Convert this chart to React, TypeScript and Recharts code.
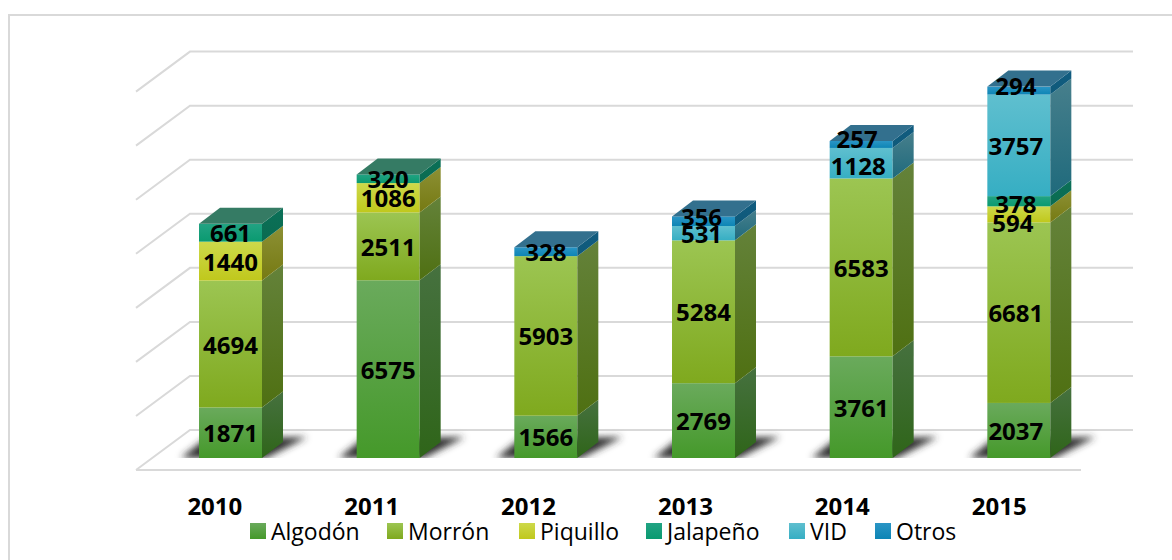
import React from "react";
import { BarChart, Bar, XAxis, YAxis, CartesianGrid, LabelList, Legend } from "recharts";

const years = ["2010", "2011", "2012", "2013", "2014", "2015"];
const algodon = [1871, 6575, 1566, 2769, 3761, 2037];
const morron = [4694, 2511, 5903, 5284, 6583, 6681];
const piquillo = [1440, 1086, 0, 0, 0, 594];
const jalapeno = [661, 320, 0, 0, 0, 378];
const vid = [0, 0, 0, 531, 1128, 3757];
const otros = [0, 0, 328, 356, 257, 294];
const gridTicks = [0, 2000, 4000, 6000, 8000, 10000, 12000, 14000];

const seriesNames = ["Algodón", "Morrón", "Piquillo", "Jalapeño", "VID", "Otros"];
const seriesValues = [algodon, morron, piquillo, jalapeno, vid, otros];
const data = years.map((year, i) => {
  const row: Record<string, any> = { year };
  seriesNames.forEach((n, s) => (row[n] = seriesValues[s][i]));
  return row;
});

const FONT = "'Open Sans', sans-serif";
const DX = 21;
const DY = 16;

const looks: Record<string, any> = {
  "Algodón": { id: "a", f: ["#6aaa5c", "#45992a"], s: ["#46713f", "#2f6519"], t: "#3d7040" },
  "Morrón": { id: "m", f: ["#9cc552", "#7fa91e"], s: ["#64823a", "#4f7012"], t: "#64823a" },
  "Piquillo": { id: "p", f: ["#cdd94b", "#c0c81c"], s: ["#8c9035", "#767a12"], t: "#8c9035" },
  "Jalapeño": { id: "j", f: ["#22a383", "#0a9a70"], s: ["#0b7058", "#0a6b50"], t: "#357b64" },
  "VID": { id: "v", f: ["#5fbfcf", "#36aec3"], s: ["#477f8c", "#1f6a7c"], t: "#3d7f8e" },
  "Otros": { id: "o", f: ["#2a95c5", "#0d85b5"], s: ["#115c80", "#0f5a7a"], t: "#33708e" },
};

const labelNudge: Record<string, [number, number]> = {
  "2013-Otros": [-2, -5],
  "2013-VID": [-2, 0],
  "2014-Otros": [-4, -6],
  "2014-VID": [-3, 2],
  "2015-Otros": [-3, -5],
  "2015-VID": [-3, 0],
  "2015-Jalapeño": [-3, 2],
  "2015-Piquillo": [-6, 8],
  "2015-Morrón": [-3, 0],
  "2015-Algodón": [-3, 0],
};

const legendSlots = [137, 132, 127, 143, 86, 90];

function isTop(index: number, name: string) {
  const at = seriesNames.indexOf(name);
  for (let s = at + 1; s < seriesNames.length; s++) {
    if (seriesValues[s][index] > 0) return false;
  }
  return true;
}

function makeShape(name: string) {
  return (p: any) => {
    const { x, y, width, height, index } = p;
    const v = seriesValues[seriesNames.indexOf(name)][index];
    if (!v) return <g />;
    const look = looks[name];
    const b = y + height;
    const r = x + width;
    return (
      <g>
        {name === "Algodón" && (
          <polygon
            points={`${x - 18},${b} ${x + 6},${b - 19} ${r + 45},${b - 21} ${r + 4},${b}`}
            fill="#2f2f2f"
            filter="url(#shadowBlur)"
          />
        )}
        <rect x={x} y={y} width={width} height={height} fill={`url(#front-${look.id})`} />
        <polygon
          points={`${r},${y} ${r + DX},${y - DY} ${r + DX},${b - DY} ${r},${b}`}
          fill={`url(#side-${look.id})`}
        />
        {isTop(index, name) && (
          <polygon
            points={`${x},${y} ${x + DX},${y - DY} ${r + DX},${y - DY} ${r},${y}`}
            fill={look.t}
          />
        )}
      </g>
    );
  };
}

function makeLabel(name: string) {
  return (p: any) => {
    const { x, y, width, height, value, index } = p;
    if (!value) return <g />;
    const n = labelNudge[`${years[index]}-${name}`] || [0, 0];
    return (
      <text
        x={x + width / 2 + n[0]}
        y={y + height / 2 + n[1]}
        textAnchor="middle"
        dominantBaseline="central"
        fontFamily={FONT}
        fontWeight={700}
        fontSize={24}
        fill="#000"
      >
        {value}
      </text>
    );
  };
}

const gridLine = (p: any) => {
  const { x1, x2, y1 } = p;
  const isFloor = Math.abs(y1 - 458) < 1;
  return (
    <g key={`g-${y1}`} stroke="#d9d9d9" strokeWidth={2} fill="none">
      <polyline points={`${x1 - 16},${y1 + 12} ${x1 + 38},${y1 - 28} ${x2 + 35},${y1 - 28}`} />
      {isFloor && <line x1={x1 - 16} y1={y1 + 12} x2={x2 - 17} y2={y1 + 12} />}
    </g>
  );
};

const YearTick = (p: any) => {
  const { x, y, payload, index } = p;
  return (
    <text
      x={x - 16 - index * 0.8}
      y={y + 41}
      textAnchor="middle"
      dominantBaseline="central"
      fontFamily={FONT}
      fontWeight={700}
      fontSize={24}
      fill="#000"
    >
      {payload.value}
    </text>
  );
};

const LegendContent = (p: any) => {
  const items = [...(p.payload || [])].sort(
    (a: any, b: any) => seriesNames.indexOf(a.value) - seriesNames.indexOf(b.value)
  );
  return (
    <div style={{ display: "flex", fontFamily: FONT, fontSize: 23, color: "#000", lineHeight: "24px" }}>
      {items.map((it: any, i: number) => {
        const look = looks[it.value];
        return (
          <div key={it.value} style={{ width: legendSlots[i], display: "flex", alignItems: "center", whiteSpace: "nowrap" }}>
            <span
              style={{
                display: "inline-block",
                width: 16,
                height: 16,
                marginRight: 5,
                background: `linear-gradient(${look.f[0]}, ${look.f[1]})`,
              }}
            />
            <span>{it.value}</span>
          </div>
        );
      })}
    </div>
  );
};

export default function App() {
  return (
    <div style={{ position: "absolute", left: 0, top: 0, width: 1172, height: 560, overflow: "hidden", background: "#fff" }}>
      <div
        style={{
          position: "absolute",
          left: 8,
          top: 14,
          width: 1200,
          height: 600,
          borderLeft: "2px solid #d9d9d9",
          borderTop: "2px solid #d9d9d9",
        }}
      />
      <div style={{ position: "absolute", left: 0, top: 0 }}>
        <BarChart
          width={1172}
          height={560}
          data={data}
          margin={{ top: 58, right: 74, bottom: 48, left: 152 }}
          barSize={63}
          style={{ overflow: "visible" }}
        >
          <defs>
            {seriesNames.map((n) => {
              const l = looks[n];
              return (
                <React.Fragment key={n}>
                  <linearGradient id={`front-${l.id}`} x1="0" y1="0" x2="0" y2="1">
                    <stop offset="0" stopColor={l.f[0]} />
                    <stop offset="1" stopColor={l.f[1]} />
                  </linearGradient>
                  <linearGradient id={`side-${l.id}`} x1="0" y1="0" x2="0" y2="1">
                    <stop offset="0" stopColor={l.s[0]} />
                    <stop offset="1" stopColor={l.s[1]} />
                  </linearGradient>
                </React.Fragment>
              );
            })}
            <filter id="shadowBlur" x="-30%" y="-50%" width="160%" height="200%">
              <feGaussianBlur stdDeviation="3.5" />
            </filter>
          </defs>
          <CartesianGrid
            vertical={false}
            horizontal={gridLine as any}
            horizontalValues={gridTicks}
            syncWithTicks={false}
          />
          <XAxis
            dataKey="year"
            axisLine={false}
            tickLine={false}
            height={30}
            tick={YearTick as any}
            tickMargin={0}
            interval={0}
          />
          <YAxis hide domain={[0, 14800]} ticks={gridTicks} allowDataOverflow />
          <Legend
            verticalAlign="bottom"
            content={LegendContent as any}
            wrapperStyle={{ position: "absolute", left: 250, top: 519, width: 720, bottom: "auto" }}
          />
          {seriesNames.map((n) => (
            <Bar key={n} dataKey={n} stackId="s" isAnimationActive={false} shape={makeShape(n) as any} fill={looks[n].f[1]}>
              <LabelList dataKey={n} content={makeLabel(n) as any} />
            </Bar>
          ))}
        </BarChart>
      </div>
    </div>
  );
}
